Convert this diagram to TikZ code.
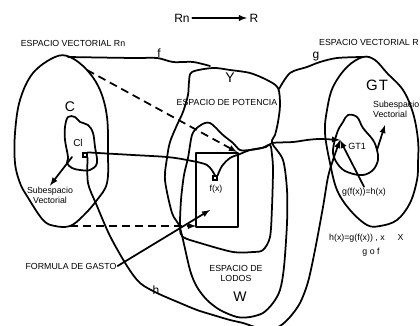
\documentclass[tikz,border=0pt]{standalone}
\usepackage{fontspec}
\setmainfont{Liberation Sans}

\begin{document}
\begin{tikzpicture}[x=1pt,y=-1pt,
    ink/.style={line width=1.75pt, line join=round, line cap=round},
    dashline/.style={line width=1.75pt, dash pattern=on 8pt off 5pt},
    txt/.style={font=\fontsize{8.8}{10}\selectfont, inner sep=1pt},
    big/.style={font=\fontsize{14}{16}\selectfont, inner sep=1pt},
    dotbox/.style={draw, line width=1.2pt, minimum size=4pt, inner sep=0pt}]
    \useasboundingbox (0,0) rectangle (420,326);

    % Rn -> R
    \node[font=\fontsize{12}{14}\selectfont, inner sep=2.5pt] (rn) at (182,18) {Rn};
    \node[font=\fontsize{12}{14}\selectfont, inner sep=2.5pt] (r) at (254,18) {R};
    \draw[ink,-latex] (rn) -- (r);

    % Titles
    \node[txt] (evrn) at (73,43) {ESPACIO VECTORIAL Rn};
    \node[txt, anchor=west] (evr) at (318,42) {ESPACIO VECTORIAL R};

    % Draw the spaces
    \draw[ink] plot[smooth cycle, tension=0.6] coordinates {(55,57) (70,57) (87,70) (100,90) (107,117)
        (108,153) (107,183) (97,200) (83,216) (70,226) (55,226) (43,220) (27,196) (20,183) (15,163)
        (15,133) (20,100) (33,73)};
    \draw[ink] plot[smooth cycle, tension=0.6] coordinates {(68,117) (75,117) (80,122) (88,125) (93,133)
        (95,147) (97,163) (90,170) (80,170) (72,168) (67,163) (68,157) (65,140) (65,127)};
    \draw[ink] plot[smooth cycle, tension=0.5] coordinates {(192,72) (213,68) (230,70) (250,73) (267,80)
        (278,88) (280,105) (278,122) (275,135) (272,143) (283,160) (287,190) (287,223) (284,267)
        (280,290) (273,303) (263,313) (250,317) (237,317) (220,310) (207,300) (197,287) (190,270)
        (180,228) (172,213) (165,180) (167,158) (170,142) (177,125) (183,112) (188,95) (189,82)};
    \draw[ink] plot[smooth cycle, tension=0.5] coordinates {(192,135) (198,127) (205,123) (210,123)
        (215,127) (223,135) (233,143) (240,150) (250,150) (262,148) (270,145) (272,155) (273,170)
        (272,207) (270,237) (263,250) (253,252) (233,252) (200,243) (183,237) (180,228) (181,200)
        (184,175) (188,158)};
    \draw[ink] plot[smooth cycle, tension=0.6] coordinates {(363,57) (375,60) (387,73) (403,90) (413,113)
        (418,140) (418,163) (417,180) (410,203) (397,220) (380,226) (367,225) (350,210) (337,190)
        (330,163) (325,133) (327,110) (333,87) (347,67)};
    \draw[ink] plot[smooth cycle, tension=0.6] coordinates {(348,115) (357,117) (363,128) (373,140)
        (377,150) (378,160) (373,170) (363,175) (350,173) (340,167) (333,153) (337,133) (343,122)};

    % box around f(x)
    \draw[ink] (196,153) rectangle (238,227);

    % Labels
    \node[big] (c) at (70,107) {C};
    \node[font=\fontsize{10}{12}\selectfont, inner sep=1pt] (cltxt) at (78,143) {Cl};
    \node[big] (y) at (230,78) {Y};
    \node[txt] (pot) at (227,102) {ESPACIO DE POTENCIA};
    \node[txt, align=center] (lodos) at (236,273) {ESPACIO DE\\LODOS};
    \node[big] (w) at (240,297) {W};
    \node[big, font=\fontsize{15}{17}\selectfont] (gt) at (377,85) {G\kern1pt T};
    \node[font=\fontsize{9}{11}\selectfont, inner sep=1pt] (gt1txt) at (357,146) {GT1};
    \node[txt] (fxtxt) at (216,189) {f(x)};
    \node[txt, align=center] (subl) at (50,195) {Subespacio\\Vectorial};
    \node[txt, align=left, anchor=west] (subr) at (372,109) {Subespacio\\Vectorial};
    \node[txt] (gfx) at (364,192) {g(f(x))=h(x)};
    \node[txt, anchor=west] (hx) at (328,238) {h(x)=g(f(x)) , x\hspace{13pt}X};
    \node[txt] (gof) at (371,252) {g o f};
    \node[txt] (gasto) at (71,266) {FORMULA DE GASTO};
    \node[font=\fontsize{12}{14}\selectfont, inner sep=1pt] (f) at (159,53) {f};
    \node[font=\fontsize{12}{14}\selectfont, inner sep=1pt] (g) at (316,57) {g};
    \node[font=\fontsize{12}{14}\selectfont, inner sep=1pt] (h) at (156,290) {h};

    % Points and coordinates
    \node[dotbox] (cl) at (85,155) {};
    \node[dotbox] (fx) at (215,178) {};
    \coordinate (rntop) at (68,57);
    \coordinate (ytop) at (210,66);
    \coordinate (ycorner) at (279,89);
    \coordinate (gttop) at (362,57);
    \coordinate (gt1) at (340,140);
    \coordinate (clin) at (72,157);
    \coordinate (gt1in) at (377,150);
    \coordinate (subrtip) at (385,125);
    \coordinate (boxin) at (210,210);
    \coordinate (dashend) at (237,152);

    % Maps f, g, h
    \draw[ink] plot[smooth, tension=0.5] coordinates {(rntop) (133,58) (157,58) (173,62) (193,62) (ytop)};
    \draw[ink] plot[smooth, tension=0.5] coordinates {(ycorner) (290,73) (307,67) (320,62) (337,58) (gttop)};
    \draw[ink] plot[smooth, tension=0.5] coordinates {(cl.north east) (133,155) (167,157) (187,160) (207,165) (fx.north)};
    \draw[ink,-latex] plot[smooth, tension=0.5] coordinates {(fx.north east) (222,166) (230,158) (240,154)
        (250,150) (266,147) (272,143) (293,142) (307,140) (320,139) (gt1)};
    \draw[ink,-latex] plot[smooth, tension=0.5] coordinates {(cl.south east) (88,183) (97,206) (110,236)
        (127,266) (140,283) (157,293) (180,303) (197,310) (213,315) (230,320) (243,323) (255,327)
        (268,330) (280,326) (290,317) (300,303) (308,282) (315,250) (323,207) (328,177) (333,160) (gt1)};

    % Dashed lines
    \draw[dashline,-latex] (87,70) -- (dashend);
    \draw[dashline,-latex] (70,226) -- (196,226);

    % Label arrows
    \draw[ink,-latex] (gasto.east) -- (boxin);
    \draw[ink,-latex] (clin) -- (subl.north);
    \draw[ink,-latex] (gt1in) -- (subrtip);
    \draw[ink,-latex] (gfx.north) -- (gt1);

\end{tikzpicture}
\end{document}
